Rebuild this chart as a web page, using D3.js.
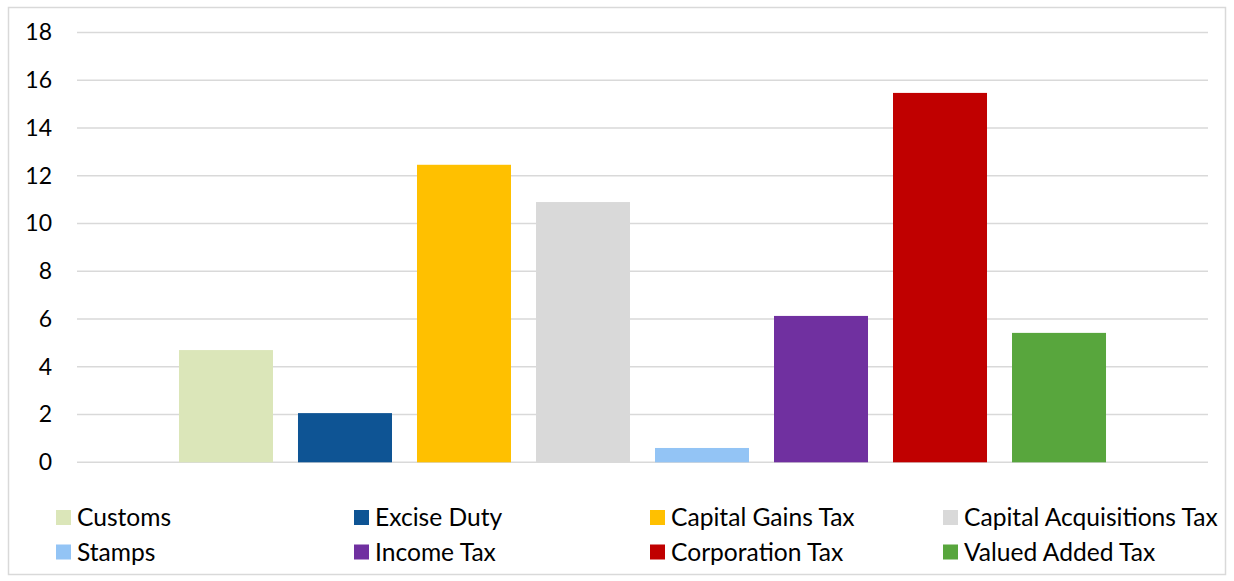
<!DOCTYPE html>
<html><head><meta charset="utf-8">
<script src="https://cdn.jsdelivr.net/npm/d3@7/dist/d3.min.js"></script>
<style>body{margin:0;background:#fff}svg{display:block}text{font-family:Lato,"Open Sans",sans-serif;fill:#000}</style>
</head><body><svg id="c" width="1234" height="581"></svg>
<script>
const series = ["Customs","Excise Duty","Capital Gains Tax","Capital Acquisitions Tax","Stamps","Income Tax","Corporation Tax","Valued Added Tax"];
const values = [4.70, 2.06, 12.46, 10.90, 0.60, 6.13, 15.47, 5.42];
const colors = ["#DBE6B9","#0E5494","#FFC000","#D9D9D9","#93C4F5","#7030A0","#C00000","#58A63D"];
const yTicks = [0,2,4,6,8,10,12,14,16,18];

const svg = d3.select("#c");
const W = 1234, H = 581;
svg.append("rect").attr("x",8.5).attr("y",7.5).attr("width",W-17).attr("height",H-14)
  .attr("fill","#fff").attr("stroke","#D9D9D9").attr("stroke-width",1.5);

const m = {left:77, right:1208, top:32.5, bottom:462.3};
const y = d3.scaleLinear().domain([0,18]).range([m.bottom, m.top]);
const x = d3.scaleBand().domain(series).range([m.left, m.right]).paddingInner(25/119).paddingOuter(0.857);

const g = svg.append("g");
g.selectAll("line.grid").data(yTicks).enter().append("line")
  .attr("x1",m.left).attr("x2",m.right).attr("y1",d=>y(d)).attr("y2",d=>y(d))
  .attr("stroke","#D9D9D9").attr("stroke-width",1.5);

const ax = svg.append("g").attr("transform",`translate(${m.left},0)`)
  .call(d3.axisLeft(y).tickValues(yTicks).tickSize(0).tickPadding(25));
ax.select(".domain").remove();
ax.selectAll("text").attr("font-size",23).style("font-family","Lato,sans-serif").attr("fill","#000");

g.selectAll("rect.bar").data(series).enter().append("rect")
  .attr("x",d=>x(d)).attr("width",x.bandwidth())
  .attr("y",(d,i)=>y(values[i])).attr("height",(d,i)=>y(0)-y(values[i]))
  .attr("fill",(d,i)=>colors[i]);

// legend: 2 rows x 4 columns
const colX = [56, 354, 650, 943];
const rowY = [517.5, 552];
const lg = svg.append("g");
series.forEach((s,i)=>{
  const r = Math.floor(i/4), c = i%4;
  lg.append("rect").attr("x",colX[c]).attr("y",rowY[r]-7.5).attr("width",15).attr("height",15).attr("fill",colors[i]);
  lg.append("text").attr("x",colX[c]+21).attr("y",rowY[r]).attr("dy","0.35em").attr("font-size",24.6).text(s);
});
</script></body></html>
